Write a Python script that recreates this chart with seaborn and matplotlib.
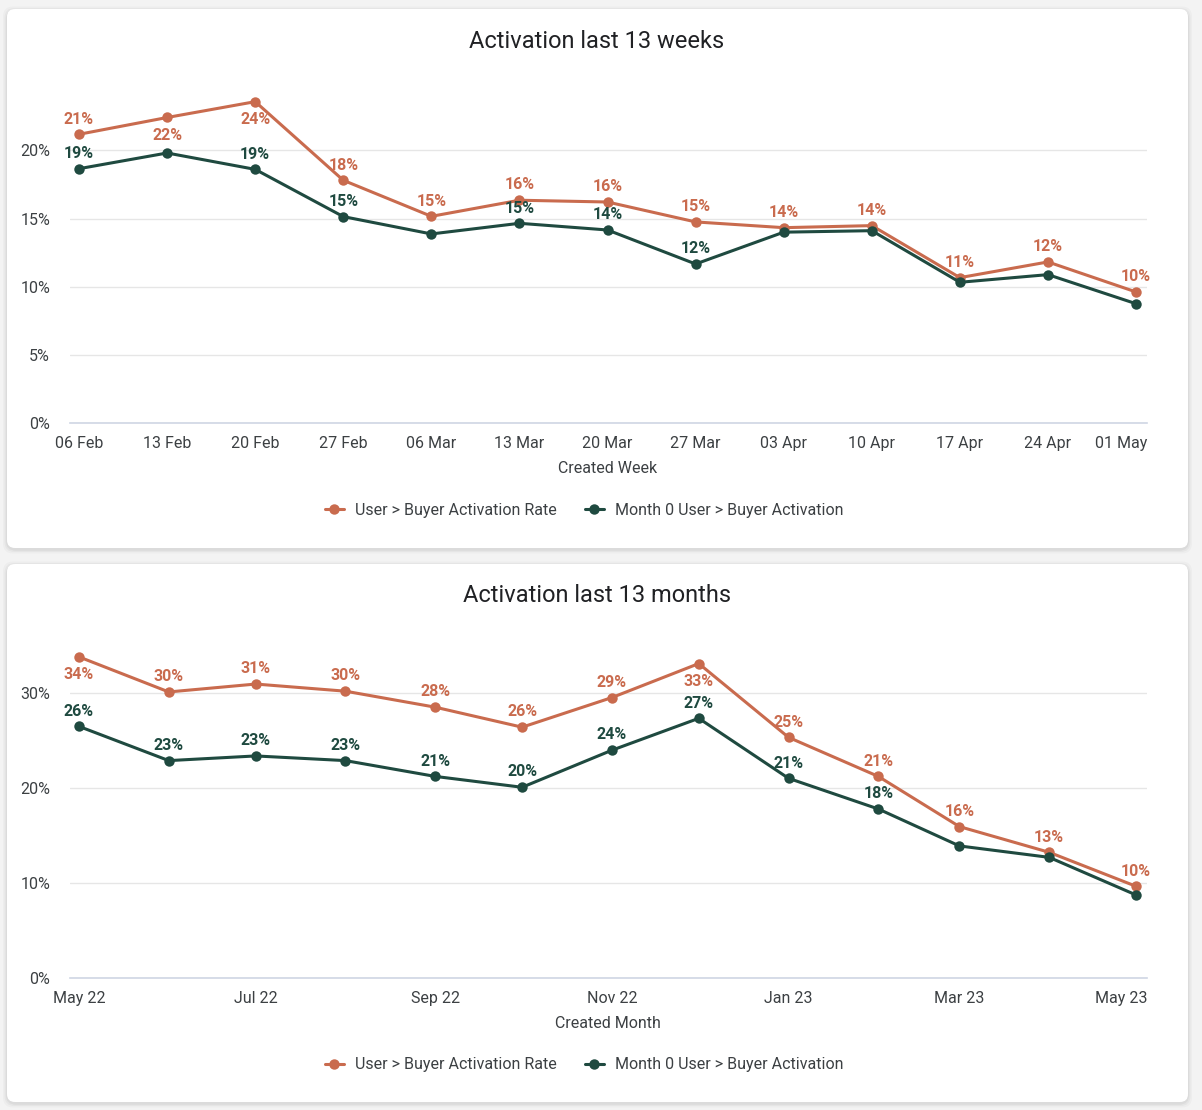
import pandas as pd
import matplotlib
matplotlib.use("Agg")
import matplotlib.pyplot as plt
from matplotlib.patches import FancyBboxPatch
from matplotlib.ticker import PercentFormatter
from matplotlib.transforms import ScaledTranslation
import seaborn as sns

# ---- data (percent) ----
week_dates = ["2023-02-06", "2023-02-13", "2023-02-20", "2023-02-27", "2023-03-06",
              "2023-03-13", "2023-03-20", "2023-03-27", "2023-04-03", "2023-04-10",
              "2023-04-17", "2023-04-24", "2023-05-01"]
week_rate = [21.17, 22.4, 23.56, 17.8, 15.16, 16.34, 16.21, 14.75, 14.33, 14.48, 10.67, 11.82, 9.62]
week_month0 = [18.65, 19.8, 18.6, 15.14, 13.87, 14.65, 14.16, 11.67, 14.0, 14.11, 10.33, 10.89, 8.76]

month_dates = ["2022-05-01", "2022-06-01", "2022-07-01", "2022-08-01", "2022-09-01",
               "2022-10-01", "2022-11-01", "2022-12-01", "2023-01-01", "2023-02-01",
               "2023-03-01", "2023-04-01", "2023-05-01"]
month_rate = [33.75, 30.07, 30.9, 30.15, 28.47, 26.37, 29.48, 33.05, 25.3, 21.2, 15.93, 13.23, 9.66]
month_month0 = [26.45, 22.86, 23.35, 22.86, 21.2, 20.06, 23.95, 27.3, 21.0, 17.78, 13.9, 12.7, 8.75]

series_names = ["User > Buyer Activation Rate", "Month 0 User > Buyer Activation"]

# which data labels show, and which sit under the point
week_rate_below = [1, 2]
week_month0_shown = [0, 2, 3, 5, 6, 7]
month_rate_below = [0, 7]
month_month0_shown = [0, 1, 2, 3, 4, 5, 6, 7, 8, 9]

ORANGE = "#C96B4E"
GREEN = "#1F4A40"
TEXT = "#3C4043"

sns.set_theme(style="white")
plt.rcParams["font.family"] = ["Roboto", "DejaVu Sans"]

W, H = 1202, 1110
fig = plt.figure(figsize=(W / 100, H / 100), dpi=100)
fig.patch.set_facecolor("#F3F3F3")

# card backgrounds
bg = fig.add_axes([0, 0, 1, 1], zorder=-5)
bg.set_xlim(0, W)
bg.set_ylim(H, 0)
bg.axis("off")
for (x0, y0, x1, y1) in [(7, 9, 1188, 548), (7, 564, 1188, 1102)]:
    for k, a in [(4, 0.025), (2.5, 0.03), (1.2, 0.045)]:
        bg.add_patch(FancyBboxPatch((x0 - k, y0 - k + 1.5), x1 - x0 + 2 * k, y1 - y0 + 2 * k,
                                    boxstyle="round,pad=0,rounding_size=10",
                                    fc="black", ec="none", alpha=a))
    bg.add_patch(FancyBboxPatch((x0, y0), x1 - x0, y1 - y0,
                                boxstyle="round,pad=0,rounding_size=8",
                                fc="white", ec="none"))


def px_axes(left, top, right, bottom):
    return fig.add_axes([left / W, 1 - bottom / H, (right - left) / W, (bottom - top) / H])


def draw(ax, dates, rate, month0, ymax, yticks, below, shown0):
    df = pd.DataFrame({
        "date": pd.to_datetime(dates + dates),
        "value": rate + month0,
        "series": [series_names[0]] * len(rate) + [series_names[1]] * len(month0),
    })
    sns.lineplot(data=df, x="date", y="value", hue="series",
                 palette=[ORANGE, GREEN], hue_order=series_names,
                 marker="o", markersize=7.5, markeredgewidth=0,
                 linewidth=2.2, ax=ax)
    ax.set_ylim(0, ymax)
    ax.set_yticks(yticks)
    ax.yaxis.set_major_formatter(PercentFormatter(decimals=0))
    ax.grid(axis="y", color="#E6E6E6", linewidth=1)
    ax.grid(axis="x", visible=False)
    for s in ["top", "left", "right"]:
        ax.spines[s].set_visible(False)
    ax.spines["bottom"].set_color("#CFD6E4")
    ax.spines["bottom"].set_linewidth(1.2)
    ax.tick_params(axis="both", length=0, labelsize=11.5, colors=TEXT)
    ax.tick_params(axis="y", pad=14)
    ax.tick_params(axis="x", pad=9)

    x = pd.to_datetime(dates)
    for i, v in enumerate(rate):
        dy = -13 if i in below else 11
        ax.annotate(f"{v:.0f}%", (x[i], v), xytext=(0, dy), textcoords="offset points",
                    ha="center", va="center", color=ORANGE, fontsize=11.5,
                    fontweight="bold", fontstretch="condensed")
    for i in shown0:
        v = month0[i]
        ax.annotate(f"{v:.0f}%", (x[i], v), xytext=(0, 11), textcoords="offset points",
                    ha="center", va="center", color=GREEN, fontsize=11.5,
                    fontweight="bold", fontstretch="condensed")
    handles, labels = ax.get_legend_handles_labels()
    ax.get_legend().remove()
    return handles, labels


legend_kw = dict(loc="center", ncol=2, frameon=False, fontsize=11.5, handlelength=1.2,
                 columnspacing=1.75, handletextpad=0.7, labelcolor=TEXT)

# ---- weekly chart ----
ax1 = px_axes(69.6, 82, 1146.5, 423.3)
h, l = draw(ax1, week_dates, week_rate, week_month0, 25, [0, 5, 10, 15, 20],
            week_rate_below, week_month0_shown)
wd = pd.to_datetime(week_dates)
ax1.set_xlim(wd[0] - pd.Timedelta(days=0.75), wd[-1] + pd.Timedelta(days=0.83))
ax1.set_xticks(wd)
ax1.set_xticklabels([d.strftime("%d %b") for d in wd])
ax1.set_xlabel("Created Week", fontsize=11.5, color=TEXT, labelpad=7)
ax1.set_ylabel("")
fig.text(597 / W, 1 - 42 / H, "Activation last 13 weeks", ha="center", va="center",
         fontsize=17, color="#202124")
ax1.legend(h, l, bbox_to_anchor=(584 / W, 1 - 510 / H),
           bbox_transform=fig.transFigure, **legend_kw)

# ---- monthly chart ----
ax2 = px_axes(69.6, 645, 1146.5, 978.3)
h, l = draw(ax2, month_dates, month_rate, month_month0, 35, [0, 10, 20, 30],
            month_rate_below, month_month0_shown)
md = pd.to_datetime(month_dates)
ax2.set_xlim(md[0] - pd.Timedelta(days=3.25), md[-1] + pd.Timedelta(days=3.6))
ax2.set_xticks(md[::2])
ax2.set_xticklabels([d.strftime("%b %y") for d in md[::2]])
ax2.set_xlabel("Created Month", fontsize=11.5, color=TEXT, labelpad=7)
ax2.set_ylabel("")
fig.text(597 / W, 1 - 596 / H, "Activation last 13 months", ha="center", va="center",
         fontsize=17, color="#202124")
ax2.legend(h, l, bbox_to_anchor=(584 / W, 1 - 1065 / H),
           bbox_transform=fig.transFigure, **legend_kw)

# keep the last tick label inside the plot edge
for ax in (ax1, ax2):
    lab = ax.get_xticklabels()[-1]
    lab.set_transform(lab.get_transform() + ScaledTranslation(-0.15, 0, fig.dpi_scale_trans))

fig.savefig("out.png", dpi=100, facecolor=fig.get_facecolor())
